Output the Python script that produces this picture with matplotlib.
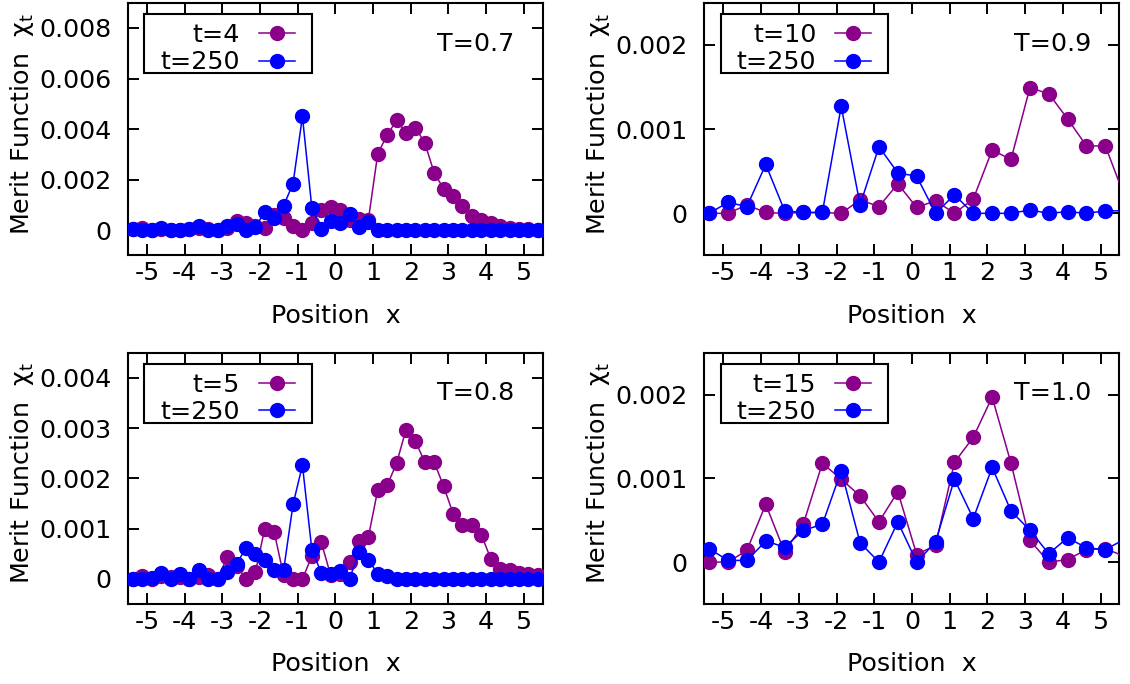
import matplotlib
matplotlib.use("Agg")
import matplotlib.pyplot as plt
from matplotlib.patches import Rectangle
from matplotlib.lines import Line2D

plt.rcParams['font.family'] = ['DejaVu Sans']
plt.rcParams['mathtext.fontset'] = 'dejavusans'

# ---------------- data ----------------
# fine grid (spacing 0.25) used for T=0.7 and T=0.8
x_fine = [-5.375, -5.125, -4.875, -4.625, -4.375, -4.125, -3.875, -3.625, -3.375,
          -3.125, -2.875, -2.625, -2.375, -2.125, -1.875, -1.625, -1.375, -1.125,
          -0.875, -0.625, -0.375, -0.125, 0.125, 0.375, 0.625, 0.875, 1.125, 1.375,
          1.625, 1.875, 2.125, 2.375, 2.625, 2.875, 3.125, 3.375, 3.625, 3.875,
          4.125, 4.375, 4.625, 4.875, 5.125, 5.375, 5.625]
# coarse grid (spacing 0.5) used for T=0.9 and T=1.0
x_coarse = [-5.375, -4.875, -4.375, -3.875, -3.375, -2.875, -2.375, -1.875, -1.375,
            -0.875, -0.375, 0.125, 0.625, 1.125, 1.625, 2.125, 2.625, 3.125, 3.625,
            4.125, 4.625, 5.125, 5.625]

# T=0.7
t07_early = [0.00005, 0.0001, 0.0, 0.00005, 0.0, 0.0, 0.00005, 0.0001, 0.00005,
             0.0, 0.0001, 0.00035, 0.0003, 0.00015, 0.00008, 0.0006, 0.0005, 0.00018,
             0.0, 0.0003, 0.00078, 0.0009, 0.0008, 0.0004, 0.00045, 0.0004, 0.00303, 0.00376,
             0.00435, 0.00385, 0.00406, 0.00345, 0.00226, 0.00164, 0.00137, 0.00095, 0.00058, 0.00041,
             0.00027, 0.00018, 0.0001, 0.00006, 0.00003, 0.0, 0.0]
t07_late = [0.00005, 0.0, 0.0, 0.0001, 0.0, 0.0, 0.00005, 0.00018, 0.0,
            0.0, 0.00018, 0.00024, 0.0, 0.00014, 0.00071, 0.00047, 0.00097, 0.00184,
            0.0045, 0.00088, 0.00005, 0.00035, 0.00027, 0.00064, 0.00011, 0.00031, 0.0, 0.0,
            0.0, 0.0, 0.0, 0.0, 0.0, 0.0, 0.0, 0.0, 0.0, 0.0,
            0.0, 0.0, 0.0, 0.0, 0.0, 0.0, 0.0]

# T=0.8
t08_early = [0.0, 0.00005, 0.0, 0.00005, 0.00003, 0.00003, 0.0, 0.00003, 0.00008,
             0.0, 0.00043, 0.00026, 0.0, 0.00013, 0.001, 0.00093, 0.00007, 0.0,
             0.0, 0.00045, 0.00073, 0.00007, 0.0001, 0.00033, 0.00076, 0.00083, 0.00177, 0.00186,
             0.0023, 0.00297, 0.00274, 0.00232, 0.00232, 0.00184, 0.0013, 0.00108, 0.00108, 0.00088,
             0.0004, 0.0002, 0.00017, 0.00011, 0.00009, 0.00007, 0.00005]
t08_late = [0.0, 0.0, 0.00002, 0.00011, 0.0, 0.00009, 0.0, 0.00017, 0.0,
            0.0, 0.00013, 0.0003, 0.00061, 0.00049, 0.00038, 0.00017, 0.00017, 0.00148,
            0.00226, 0.00058, 0.00012, 0.0001, 0.00015, 0.0, 0.00053, 0.00038, 0.0001, 0.00005,
            0.0, 0.0, 0.0, 0.0, 0.0, 0.0, 0.0, 0.0, 0.0, 0.0,
            0.0, 0.0, 0.0, 0.0, 0.0, 0.0, 0.0]

# T=0.9
t09_early = [0.0, 0.0, 0.0001, 0.00001, 0.0, 0.00001, 0.00001, 0.0, 0.00016,
             0.00008, 0.00035, 0.00007, 0.00015, 0.0, 0.00017, 0.00075, 0.00064, 0.00149,
             0.00142, 0.00112, 0.0008, 0.0008, 0.00021]
t09_late = [0.0, 0.00013, 0.00008, 0.00058, 0.00003, 0.00001, 0.00001, 0.00127, 0.0001,
            0.00079, 0.00048, 0.00044, 0.0, 0.00022, 0.0, 0.0, 0.0, 0.00004,
            0.0, 0.00002, 0.0, 0.00003, 0.00003]

# T=1.0
t10_early = [0.0, 0.0, 0.00014, 0.00069, 0.00012, 0.00046, 0.00118, 0.00099, 0.00079,
             0.00048, 0.00084, 0.00009, 0.0002, 0.00119, 0.00149, 0.00197, 0.00118, 0.00026,
             0.0, 0.00003, 0.00015, 0.00016, 0.00007]
t10_late = [0.00016, 0.00002, 0.00002, 0.00025, 0.00018, 0.00038, 0.00045, 0.00109, 0.00023,
            0.0, 0.00048, 0.0, 0.00024, 0.00099, 0.00052, 0.00113, 0.00061, 0.00038,
            0.0001, 0.00029, 0.00017, 0.00015, 0.00027]

xticks = [-5, -4, -3, -2, -1, 0, 1, 2, 3, 4, 5]
xticklabels = ['-5', '-4', '-3', '-2', '-1', '0', '1', '2', '3', '4', '5']

panels = [
    dict(pos=[0.1135, 0.6265, 0.3666, 0.3696], x=x_fine, early=t07_early, late=t07_late,
         early_label='t=4', T='T=0.7', ylim=(-0.001, 0.009),
         yticks=[0, 0.002, 0.004, 0.006, 0.008], yticklabels=['0', '0.002', '0.004', '0.006', '0.008']),
    dict(pos=[0.6234, 0.6265, 0.3673, 0.3696], x=x_coarse, early=t09_early, late=t09_late,
         early_label='t=10', T='T=0.9', ylim=(-0.0005, 0.0025),
         yticks=[0, 0.001, 0.002], yticklabels=['0', '0.001', '0.002']),
    dict(pos=[0.1135, 0.1170, 0.3666, 0.3674], x=x_fine, early=t08_early, late=t08_late,
         early_label='t=5', T='T=0.8', ylim=(-0.0005, 0.0045),
         yticks=[0, 0.001, 0.002, 0.003, 0.004], yticklabels=['0', '0.001', '0.002', '0.003', '0.004']),
    dict(pos=[0.6234, 0.1170, 0.3673, 0.3674], x=x_coarse, early=t10_early, late=t10_late,
         early_label='t=15', T='T=1.0', ylim=(-0.0005, 0.0025),
         yticks=[0, 0.001, 0.002], yticklabels=['0', '0.001', '0.002']),
]

PURPLE = '#8a008a'
BLUE = '#0000ff'
FS = 18.3
XLIM = (-5.5, 5.5)
LW = 1.1
MS = 10

fig = plt.figure(figsize=(11.3, 6.84), dpi=100)

for p in panels:
    ax = fig.add_axes(p['pos'])
    # markers only for points inside the x range (lines still run out to the frame)
    inside = [i for i, xv in enumerate(p['x']) if XLIM[0] <= xv <= XLIM[1]]
    ax.plot(p['x'], p['early'], '-o', color=PURPLE, lw=LW, ms=MS,
            markevery=inside, zorder=3)
    ax.plot(p['x'], p['late'], '-o', color=BLUE, lw=LW, ms=MS,
            markevery=inside, zorder=4)
    ax.set_xlim(*XLIM)
    ax.set_ylim(*p['ylim'])
    ax.set_xticks(xticks)
    ax.set_xticklabels(xticklabels)
    ax.set_yticks(p['yticks'])
    ax.set_yticklabels(p['yticklabels'])
    ax.tick_params(direction='in', top=True, right=True, length=8, width=1.4,
                   labelsize=FS)
    ax.tick_params(axis='x', pad=4.0)
    ax.tick_params(axis='y', pad=12)
    for s in ax.spines.values():
        s.set_linewidth(1.5)
    ax.set_xlabel('Position  x', fontsize=FS)
    ax.xaxis.set_label_coords(0.5, -0.19)
    ax.set_ylabel(r'Merit Function  $\mathregular{\chi_t}$', fontsize=FS)
    ax.yaxis.set_label_coords(-0.222, 0.52)

    ax.text(0.932, 0.81, p['T'], transform=ax.transAxes, ha='right',
            va='baseline', fontsize=FS)

    h1 = Line2D([], [], color=PURPLE, marker='o', lw=LW, ms=MS)
    h2 = Line2D([], [], color=BLUE, marker='o', lw=LW, ms=MS)
    ax.legend([h1, h2], [p['early_label'], 't=250'], loc='upper right',
              bbox_to_anchor=(0.4024, 0.92), borderaxespad=0, borderpad=0,
              frameon=False, markerfirst=False, handlelength=1.42,
              handletextpad=0.75, labelspacing=0.14, fontsize=FS)
    ax.add_patch(Rectangle((0.039, 0.72), 0.404, 0.235, transform=ax.transAxes,
                           fill=False, lw=1.5, edgecolor='black', zorder=6,
                           clip_on=False))

fig.savefig('out.png', dpi=100)
